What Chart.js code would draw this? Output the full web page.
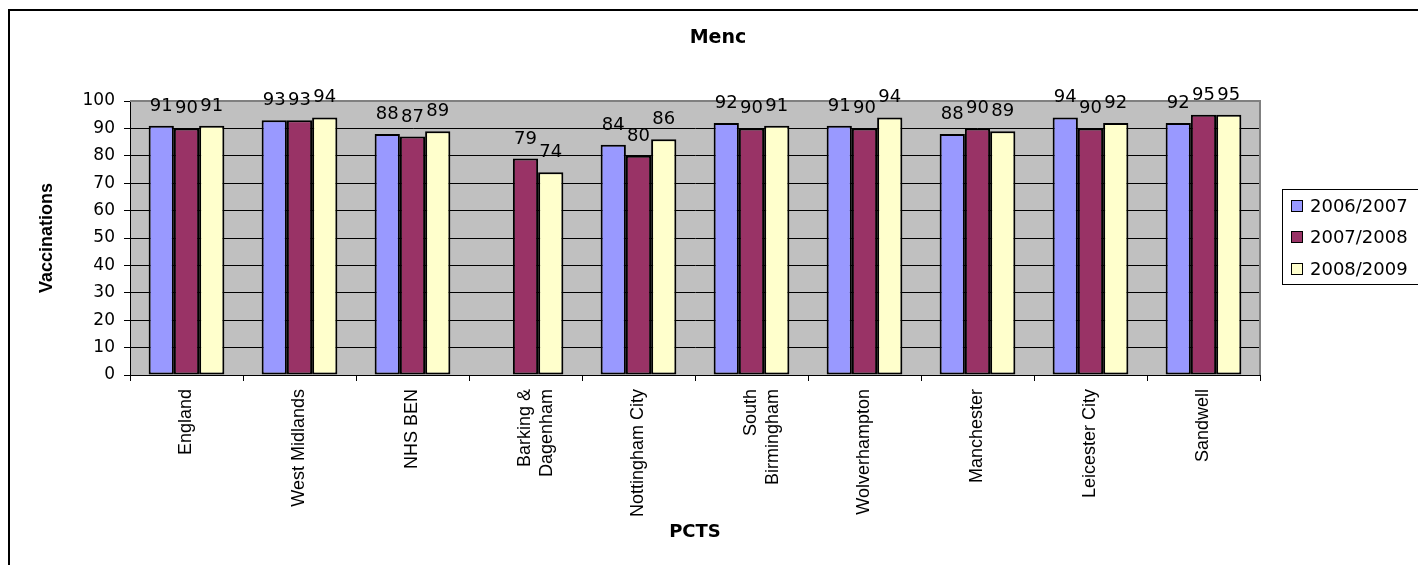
<!DOCTYPE html>
<html>
<head>
<meta charset="utf-8">
<script src="https://cdn.jsdelivr.net/npm/chart.js@4/dist/chart.umd.min.js"></script>
<style>
  html, body { margin: 0; padding: 0; background: #ffffff; overflow: hidden; }
  #wrap { position: absolute; left: 0; top: 0; width: 1418px; height: 565px; }
</style>
</head>
<body>
<div id="wrap"><canvas id="c" width="1418" height="565"></canvas></div>
<script>
const chartTitle = 'Menc';
const xAxisTitle = 'PCTS';
const yAxisTitle = 'Vaccinations';
const categories = ['England', 'West Midlands', 'NHS BEN', ['Barking &', 'Dagenham'], 'Nottingham City',
  ['South', 'Birmingham'], 'Wolverhampton', 'Manchester', 'Leicester City', 'Sandwell'];
const seriesNames = ['2006/2007', '2007/2008', '2008/2009'];
const series2006 = [91, 93, 88, null, 84, 92, 91, 88, 94, 92];
const series2007 = [90, 93, 87, 79, 80, 90, 90, 90, 90, 95];
const series2008 = [91, 94, 89, 74, 86, 91, 94, 89, 92, 95];
const yTicks = [0, 10, 20, 30, 40, 50, 60, 70, 80, 90, 100];
const seriesColors = ['#9999FF', '#993366', '#FFFFCC'];

const seriesValues = [series2006, series2007, series2008];

const pageDecor = {
  id: 'pageDecor',
  beforeDraw(chart) {
    const ctx = chart.ctx, a = chart.chartArea;
    ctx.save();
    ctx.fillStyle = '#ffffff';
    ctx.fillRect(0, 0, chart.width, chart.height);
    ctx.fillStyle = '#C0C0C0';
    ctx.fillRect(a.left, a.top, a.right - a.left, a.bottom - a.top);
    ctx.restore();
  },
  afterDatasetsDraw(chart) {
    const ctx = chart.ctx, a = chart.chartArea;
    ctx.save();
    ctx.strokeStyle = '#808080';
    ctx.lineWidth = 2;
    ctx.beginPath();
    ctx.moveTo(a.left, a.top);
    ctx.lineTo(a.right, a.top);
    ctx.lineTo(a.right, a.bottom);
    ctx.stroke();
    ctx.fillStyle = '#000000';
    ctx.font = '18px "DejaVu Sans"';
    ctx.textAlign = 'center';
    ctx.textBaseline = 'alphabetic';
    chart.data.datasets.forEach((ds, i) => {
      const meta = chart.getDatasetMeta(i);
      meta.data.forEach((el, j) => {
        const v = ds.data[j];
        if (v === null || v === undefined) return;
        ctx.fillText(String(v), el.x, el.y - 15);
      });
    });
    ctx.restore();
  },
  afterDraw(chart) {
    const ctx = chart.ctx;
    ctx.save();
    ctx.strokeStyle = '#000000';
    ctx.lineWidth = 2;
    ctx.strokeRect(9, 10, 3000, 3000);
    ctx.fillStyle = '#000000';
    ctx.font = 'bold 19px "DejaVu Sans"';
    ctx.textAlign = 'center';
    ctx.textBaseline = 'middle';
    ctx.fillText(chartTitle, 718, 38);
    ctx.lineWidth = 1;
    ctx.strokeStyle = '#000000';
    ctx.strokeRect(1282.5, 189.5, 200, 95);
    const rows = [206, 237, 269];
    ctx.font = '18px "DejaVu Sans"';
    ctx.textAlign = 'left';
    chart.data.datasets.forEach((ds, i) => {
      const y = rows[i];
      ctx.fillStyle = ds.backgroundColor;
      ctx.fillRect(1291, y - 6, 12, 12);
      ctx.strokeRect(1291.5, y - 5.5, 11, 11);
      ctx.fillStyle = '#000000';
      ctx.fillText(ds.label, 1310, y + 1);
    });
    ctx.restore();
  }
};

new Chart(document.getElementById('c'), {
  type: 'bar',
  data: {
    labels: categories,
    datasets: seriesNames.map((name, i) => ({
      label: name,
      data: seriesValues[i],
      backgroundColor: seriesColors[i],
      borderColor: '#000000',
      borderWidth: 2,
      borderSkipped: false,
      categoryPercentage: 0.67,
      barPercentage: 1.0
    }))
  },
  options: {
    responsive: false,
    animation: false,
    devicePixelRatio: 1,
    layout: { padding: { left: 0, top: 101, right: 158, bottom: 0 } },
    plugins: {
      legend: { display: false },
      title: { display: false },
      tooltip: { enabled: false }
    },
    scales: {
      x: {
        afterFit(scale) { scale.height = 190; },
        grid: { drawOnChartArea: false, drawTicks: true, tickLength: 6, color: '#000000', offset: true },
        border: { display: true, color: '#000000', width: 1 },
        ticks: {
          color: '#000000',
          font: { family: '"Liberation Sans"', size: 18 },
          minRotation: 90, maxRotation: 90,
          padding: 8,
          autoSkip: false
        },
        title: {
          display: true, text: xAxisTitle, color: '#000000',
          font: { family: '"DejaVu Sans"', size: 18, weight: 'bold' },
          padding: { top: 0, bottom: 22 }
        }
      },
      y: {
        min: 0, max: 100,
        afterFit(scale) { scale.width = 130; },
        afterBuildTicks(scale) { scale.ticks = yTicks.map(v => ({ value: v })); },
        grid: { color: '#000000', lineWidth: 1, drawTicks: true, tickLength: 6, tickColor: '#000000' },
        border: { display: true, color: '#000000', width: 1 },
        ticks: {
          color: '#000000',
          font: { family: '"DejaVu Sans"', size: 17 },
          padding: 9
        },
        title: {
          display: true, text: yAxisTitle, color: '#000000',
          font: { family: '"Liberation Sans"', size: 18, weight: 'bold' },
          padding: { top: 36, bottom: 0 }
        }
      }
    }
  },
  plugins: [pageDecor]
});
</script>
</body>
</html>
